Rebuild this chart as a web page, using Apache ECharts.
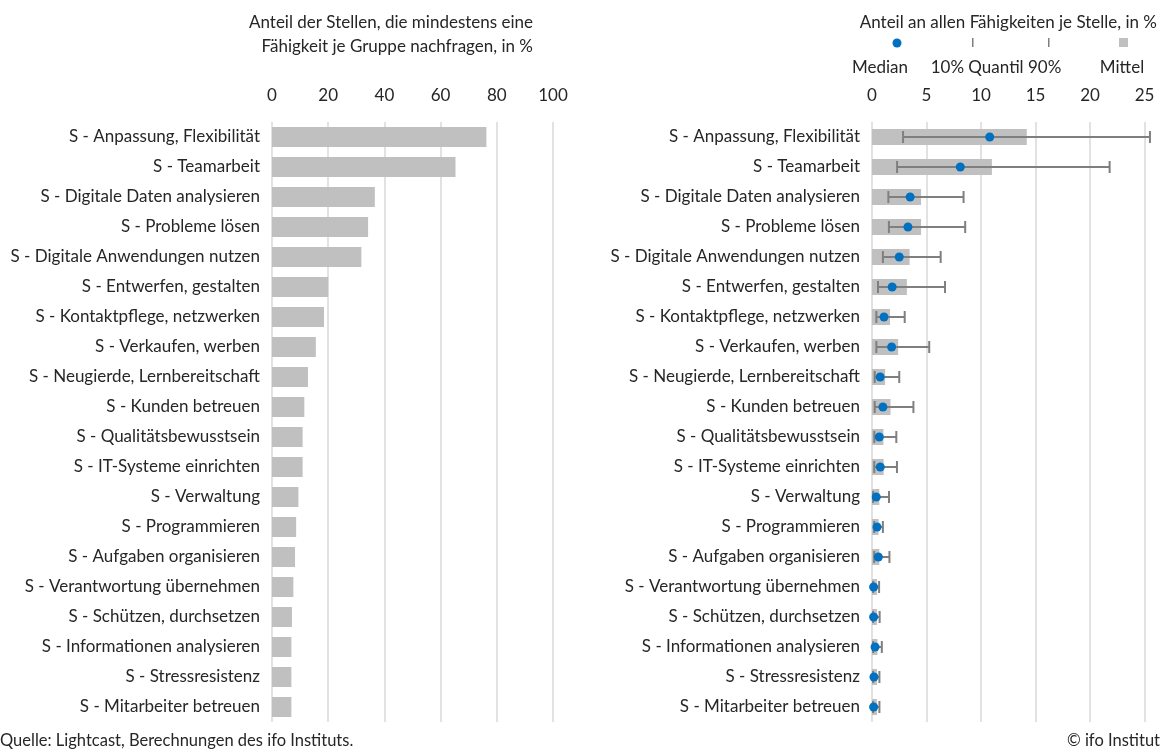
<!DOCTYPE html>
<html>
<head>
<meta charset="utf-8">
<script src="https://cdn.jsdelivr.net/npm/echarts@6/dist/echarts.min.js"></script>
<style>
html,body{margin:0;padding:0;background:#fff;}
#chart{width:1163px;height:751px;}
</style>
</head>
<body>
<div id="chart"></div>
<script>
const categories = [
  "S - Anpassung, Flexibilität",
  "S - Teamarbeit",
  "S - Digitale Daten analysieren",
  "S - Probleme lösen",
  "S - Digitale Anwendungen nutzen",
  "S - Entwerfen, gestalten",
  "S - Kontaktpflege, netzwerken",
  "S - Verkaufen, werben",
  "S - Neugierde, Lernbereitschaft",
  "S - Kunden betreuen",
  "S - Qualitätsbewusstsein",
  "S - IT-Systeme einrichten",
  "S - Verwaltung",
  "S - Programmieren",
  "S - Aufgaben organisieren",
  "S - Verantwortung übernehmen",
  "S - Schützen, durchsetzen",
  "S - Informationen analysieren",
  "S - Stressresistenz",
  "S - Mitarbeiter betreuen"
];
const shareJobs = [76.3, 65.3, 36.6, 34.2, 31.8, 20.0, 18.5, 15.6, 12.8, 11.5, 10.9, 10.9, 9.4, 8.6, 8.2, 7.6, 7.1, 6.9, 6.9, 6.9];
const meanShare = [14.2, 11.0, 4.5, 4.5, 3.45, 3.2, 1.65, 2.4, 1.2, 1.7, 1.05, 1.07, 0.67, 0.6, 0.67, 0.45, 0.45, 0.5, 0.45, 0.45];
const medianShare = [10.8, 8.1, 3.5, 3.3, 2.5, 1.85, 1.1, 1.8, 0.75, 1.0, 0.67, 0.76, 0.39, 0.46, 0.58, 0.15, 0.15, 0.28, 0.18, 0.15];
const q10Share = [2.85, 2.3, 1.5, 1.55, 1.0, 0.55, 0.4, 0.4, 0.25, 0.25, 0.21, 0.21, 0.1, 0.2, 0.2, 0.1, 0.1, 0.1, 0.1, 0.1];
const q90Share = [25.5, 21.8, 8.4, 8.55, 6.3, 6.7, 3.0, 5.25, 2.5, 3.8, 2.23, 2.29, 1.56, 1.0, 1.6, 0.65, 0.7, 0.9, 0.68, 0.68];
const leftTicks = [0, 20, 40, 60, 80, 100];
const rightTicks = [0, 5, 10, 15, 20, 25];

const FONT = 'Lato';
const TXT = '#262626';
const GRID = '#d9d9d9';
const FS = 17;

const chart = echarts.init(document.getElementById('chart'), null, {renderer: 'canvas'});

const whiskerData = categories.map((c, i) => [q10Share[i], q90Share[i], i]);
const medianData = categories.map((c, i) => [medianShare[i], i]);

const xAxisCommon = {
  type: 'value',
  position: 'top',
  axisLine: {show: false},
  axisTick: {show: false},
  splitLine: {show: true, lineStyle: {color: GRID, width: 1.5}},
  axisLabel: {color: TXT, fontFamily: FONT, fontSize: FS, margin: 18}
};
const yAxisCommon = {
  type: 'category',
  data: categories,
  inverse: true,
  axisLine: {show: false},
  axisTick: {show: false},
  splitLine: {show: false},
  axisLabel: {color: TXT, fontFamily: FONT, fontSize: FS, margin: 12, padding: [3, 0, 0, 0]}
};

chart.setOption({
  animation: false,
  backgroundColor: '#fff',
  textStyle: {fontFamily: FONT},
  grid: [
    {left: 272, top: 122, width: 281, height: 600},
    {left: 872, top: 122, width: 272.5, height: 600}
  ],
  xAxis: [
    Object.assign({}, xAxisCommon, {gridIndex: 0, min: leftTicks[0], max: leftTicks[leftTicks.length - 1], interval: 20}),
    Object.assign({}, xAxisCommon, {gridIndex: 1, min: rightTicks[0], max: rightTicks[rightTicks.length - 1], interval: 5})
  ],
  yAxis: [
    Object.assign({}, yAxisCommon, {gridIndex: 0}),
    Object.assign({}, yAxisCommon, {gridIndex: 1})
  ],
  series: [
    {
      type: 'bar', xAxisIndex: 0, yAxisIndex: 0,
      data: shareJobs, barWidth: 20,
      itemStyle: {color: '#c0c0c0'}
    },
    {
      name: 'Mittel', type: 'bar', xAxisIndex: 1, yAxisIndex: 1,
      data: meanShare, barWidth: 16, z: 2,
      itemStyle: {color: '#c0c0c0'}
    },
    {
      name: 'Quantil', type: 'custom', xAxisIndex: 1, yAxisIndex: 1, z: 3,
      data: whiskerData,
      encode: {x: [0, 1], y: 2},
      renderItem: function (params, api) {
        const yv = api.value(2);
        const lo = api.coord([api.value(0), yv]);
        const hi = api.coord([api.value(1), yv]);
        const h = 12;
        const st = {stroke: '#7f7f7f', lineWidth: 2};
        return {
          type: 'group',
          children: [
            {type: 'line', shape: {x1: lo[0], y1: lo[1], x2: hi[0], y2: hi[1]}, style: st},
            {type: 'line', shape: {x1: lo[0], y1: lo[1] - h / 2, x2: lo[0], y2: lo[1] + h / 2}, style: st},
            {type: 'line', shape: {x1: hi[0], y1: hi[1] - h / 2, x2: hi[0], y2: hi[1] + h / 2}, style: st}
          ]
        };
      }
    },
    {
      name: 'Median', type: 'scatter', xAxisIndex: 1, yAxisIndex: 1, z: 4,
      data: medianData, symbol: 'circle', symbolSize: 9,
      itemStyle: {color: '#0070c0', opacity: 1}
    }
  ],
  graphic: [
    {type: 'text', right: 1163 - 533, top: 14, style: {text: 'Anteil der Stellen, die mindestens eine', fill: TXT, font: FS + 'px ' + FONT, textAlign: 'right'}},
    {type: 'text', right: 1163 - 533, top: 38, style: {text: 'Fähigkeit je Gruppe nachfragen, in %', fill: TXT, font: FS + 'px ' + FONT, textAlign: 'right'}},
    {type: 'text', right: 6, top: 14, style: {text: 'Anteil an allen Fähigkeiten je Stelle, in %', fill: TXT, font: FS + 'px ' + FONT}},
    {type: 'circle', shape: {cx: 897, cy: 43, r: 4.5}, style: {fill: '#0070c0'}},
    {type: 'rect', shape: {x: 972, y: 38, width: 1.5, height: 9}, style: {fill: '#7f7f7f'}},
    {type: 'rect', shape: {x: 1048, y: 38, width: 1.5, height: 9}, style: {fill: '#7f7f7f'}},
    {type: 'rect', shape: {x: 1119, y: 38, width: 9, height: 9}, style: {fill: '#c0c0c0'}},
    {type: 'text', x: 880, y: 59, style: {text: 'Median', fill: TXT, font: FS + 'px ' + FONT, textAlign: 'center'}},
    {type: 'text', x: 996, y: 59, style: {text: '10% Quantil 90%', fill: TXT, font: FS + 'px ' + FONT, textAlign: 'center'}},
    {type: 'text', x: 1122, y: 59, style: {text: 'Mittel', fill: TXT, font: FS + 'px ' + FONT, textAlign: 'center'}},
    {type: 'text', left: 0, top: 732, style: {text: 'Quelle: Lightcast, Berechnungen des ifo Instituts.', fill: TXT, font: '16.5px ' + FONT}},
    {type: 'text', right: 3, top: 732, style: {text: '© ifo Institut', fill: TXT, font: '16.5px ' + FONT}}
  ]
});
</script>
</body>
</html>
